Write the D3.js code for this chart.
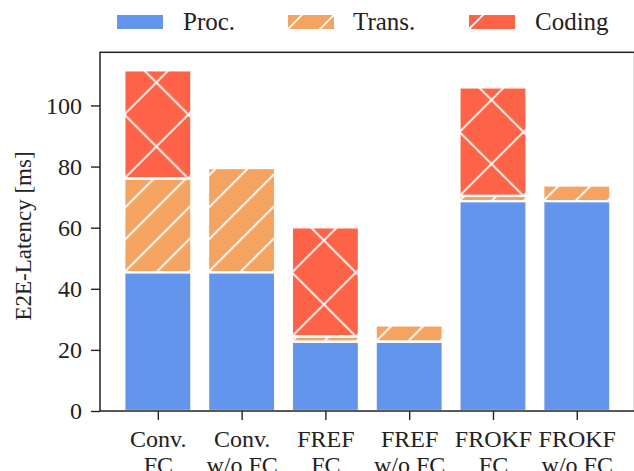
<!DOCTYPE html>
<html>
<head>
<meta charset="utf-8">
<script src="https://cdn.jsdelivr.net/npm/d3@7/dist/d3.min.js"></script>
<style>
  html, body { margin: 0; padding: 0; background: #fff; }
  svg { display: block; }
  text { font-family: "Liberation Serif", "Times New Roman", serif; fill: #222; }
</style>
</head>
<body>
<svg id="chart" width="634" height="471"></svg>
<script>
// Configurations (two-line tick labels)
const categories = ["Conv.\nFC", "Conv.\nw/o FC", "FREF\nFC", "FREF\nw/o FC", "FROKF\nFC", "FROKF\nw/o FC"];

// Latency components in ms
const procValues   = [45.4, 45.4, 22.7, 22.7, 68.7, 68.7];
const transValues  = [30.7, 34.1, 1.7, 5.3, 1.7, 5.1];
const codingValues = [35.4, 0, 35.7, 0, 35.5, 0];

const seriesNames  = ["Proc.", "Trans.", "Coding"];
const seriesColors = ["#6495ED", "#F4A460", "#FF6347"];
const seriesHatch  = [null, "//", "x"];

const yTicks = [0, 20, 40, 60, 80, 100];
const yMax = 117.4;
const yLabel = "E2E-Latency [ms]";

const svg = d3.select("#chart");
const defs = svg.append("defs");

const plot = { left: 100, right: 634.6, top: 52.3, bottom: 411 };

const x = d3.scaleLinear().domain([-0.69, categories.length - 1 + 0.69]).range([plot.left, plot.right]);
const y = d3.scaleLinear().domain([0, yMax]).range([plot.bottom, plot.top]);
const barW = x(0.8) - x(0);

// stacked segments
const seriesValues = [procValues, transValues, codingValues];
const segments = [];
categories.forEach((c, i) => {
  let base = 0;
  seriesValues.forEach((vals, s) => {
    const v = vals[i];
    if (v > 0) segments.push({ cat: i, s, y0: base, y1: base + v });
    base += v;
  });
});

// hatch pattern anchored at a given bottom-left corner
function makeHatch(id, kind, ox, oy) {
  const size = kind === "x" ? 64 : 32;
  const p = defs.append("pattern")
    .attr("id", id)
    .attr("patternUnits", "userSpaceOnUse")
    .attr("x", ox).attr("y", oy)
    .attr("width", size).attr("height", size);
  const g = p.append("g").attr("stroke", "#fff").attr("stroke-width", 1.8).attr("stroke-linecap", "square");
  // "/" direction
  g.append("line").attr("x1", -1).attr("y1", size + 1).attr("x2", size + 1).attr("y2", -1);
  g.append("line").attr("x1", -2).attr("y1", 2).attr("x2", 2).attr("y2", -2);
  g.append("line").attr("x1", size - 2).attr("y1", size + 2).attr("x2", size + 2).attr("y2", size - 2);
  if (kind === "x") {
    // "\" direction
    g.append("line").attr("x1", -1).attr("y1", -1).attr("x2", size + 1).attr("y2", size + 1);
    g.append("line").attr("x1", size - 2).attr("y1", -2).attr("x2", size + 2).attr("y2", 2);
    g.append("line").attr("x1", -2).attr("y1", size - 2).attr("x2", 2).attr("y2", size + 2);
  }
}

segments.forEach((d, k) => {
  d.x = x(d.cat) - barW / 2;
  d.top = y(d.y1);
  d.h = y(d.y0) - y(d.y1);
  if (seriesHatch[d.s]) {
    d.pid = "hatch-" + k;
    makeHatch(d.pid, seriesHatch[d.s] === "x" ? "x" : "/", d.x, y(d.y0));
  }
});

const bars = svg.append("g");
bars.selectAll("rect.face").data(segments).join("rect")
  .attr("class", "face")
  .attr("x", d => d.x).attr("y", d => d.top)
  .attr("width", barW).attr("height", d => d.h)
  .attr("fill", d => seriesColors[d.s]);
bars.selectAll("rect.hatch").data(segments.filter(d => d.pid)).join("rect")
  .attr("class", "hatch")
  .attr("x", d => d.x).attr("y", d => d.top)
  .attr("width", barW).attr("height", d => d.h)
  .attr("fill", d => `url(#${d.pid})`);
bars.selectAll("rect.edge").data(segments).join("rect")
  .attr("class", "edge")
  .attr("x", d => d.x).attr("y", d => d.top)
  .attr("width", barW).attr("height", d => d.h)
  .attr("fill", "none").attr("stroke", "#fff").attr("stroke-width", 2.2);

const FS = 24;

// axes
const yAxis = svg.append("g")
  .attr("transform", `translate(${plot.left},0)`)
  .call(d3.axisLeft(y).tickValues(yTicks).tickSize(9).tickPadding(9));
yAxis.select(".domain").remove();
yAxis.selectAll(".tick line").attr("stroke", "#222").attr("stroke-width", 1.4);
yAxis.selectAll(".tick text").attr("font-size", FS).attr("font-family", "Liberation Serif").attr("fill", "#222");

const xAxis = svg.append("g")
  .attr("transform", `translate(0,${plot.bottom})`)
  .call(d3.axisBottom(x).tickValues(d3.range(categories.length)).tickSize(9).tickFormat(""));
xAxis.select(".domain").remove();
xAxis.selectAll(".tick line").attr("stroke", "#222").attr("stroke-width", 1.4);
xAxis.selectAll(".tick").each(function (i) {
  const t = d3.select(this).append("text")
    .attr("text-anchor", "middle")
    .attr("font-size", FS).attr("fill", "#222");
  categories[i].split("\n").forEach((line, j) => {
    t.append("tspan").attr("x", 0).attr("y", 36 + j * 26).text(line);
  });
});

// frame
svg.append("rect")
  .attr("x", plot.left).attr("y", plot.top)
  .attr("width", plot.right - plot.left).attr("height", plot.bottom - plot.top)
  .attr("fill", "none").attr("stroke", "#222").attr("stroke-width", 1.5);

// y label
svg.append("text")
  .attr("transform", `translate(31,236) rotate(-90)`)
  .attr("text-anchor", "middle")
  .attr("font-size", 23)
  .text(yLabel);

// legend
const legendItems = [
  { name: seriesNames[0], s: 0, px: 117, tx: 183 },
  { name: seriesNames[1], s: 1, px: 288, tx: 353 },
  { name: seriesNames[2], s: 2, px: 469, tx: 535 }
];
const patchW = 46, patchH = 14, patchTop = 15;
const legend = svg.append("g");
legendItems.forEach(it => {
  legend.append("rect")
    .attr("x", it.px).attr("y", patchTop).attr("width", patchW).attr("height", patchH)
    .attr("fill", seriesColors[it.s]);
  if (seriesHatch[it.s]) {
    const id = "legend-hatch-" + it.s;
    makeHatch(id, seriesHatch[it.s] === "x" ? "x" : "/", it.px, patchTop + patchH);
    legend.append("rect")
      .attr("x", it.px).attr("y", patchTop).attr("width", patchW).attr("height", patchH)
      .attr("fill", `url(#${id})`);
  }
  legend.append("text")
    .attr("x", it.tx).attr("y", 30)
    .attr("font-size", 25)
    .text(it.name);
});
</script>
</body>
</html>
